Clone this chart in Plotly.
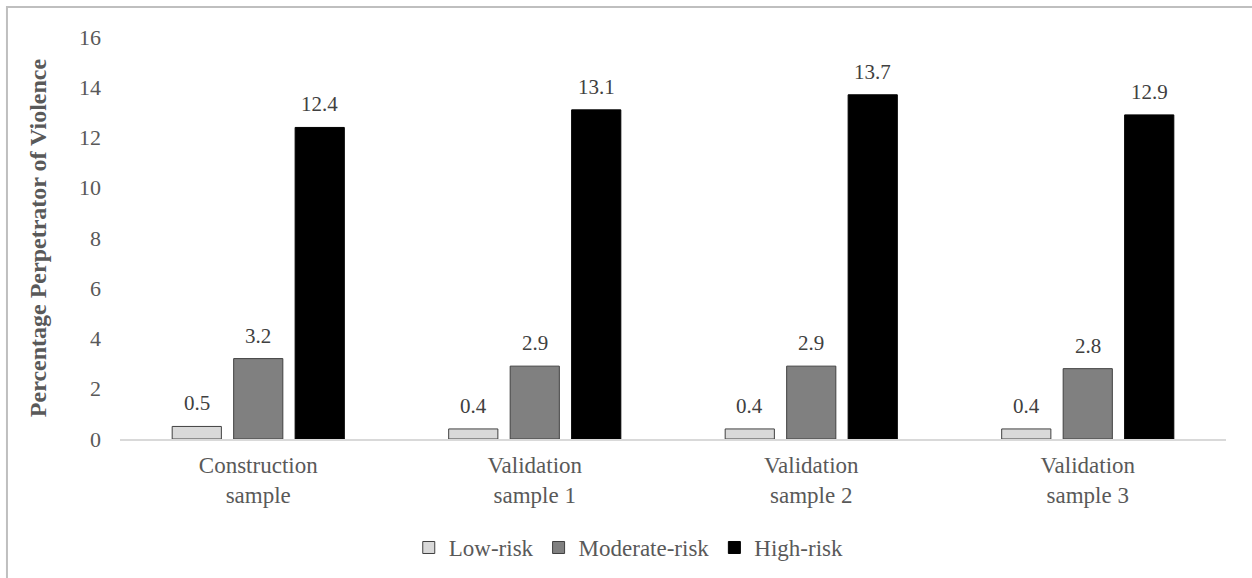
import plotly.graph_objects as go

categories = ["Construction<br>sample", "Validation<br>sample 1", "Validation<br>sample 2", "Validation<br>sample 3"]
series_names = ["Low-risk", "Moderate-risk", "High-risk"]
low_risk = [0.5, 0.4, 0.4, 0.4]
moderate_risk = [3.2, 2.9, 2.9, 2.8]
high_risk = [12.4, 13.1, 13.7, 12.9]
y_ticks = [0, 2, 4, 6, 8, 10, 12, 14, 16]

series_values = [low_risk, moderate_risk, high_risk]
fills = ["#D9D9D9", "#808080", "#000000"]
outlines = ["#404040", "#404040", "#000000"]

FONT = "Liberation Serif, Times New Roman, serif"
TXT = "#595959"

fig = go.Figure()
for name, vals, fc, lc in zip(series_names, series_values, fills, outlines):
    fig.add_trace(go.Bar(
        x=categories, y=vals, name=name,
        marker=dict(color=fc, line=dict(color=lc, width=1)),
    ))

offsets = [-61.5, 0, 61.5]
for vals, dx in zip(series_values, offsets):
    for c, v in zip(categories, vals):
        fig.add_annotation(x=c, y=v, text=f"{v:.1f}", showarrow=False,
                           xshift=dx, yshift=23, yanchor="middle",
                           font=dict(family=FONT, size=21, color="#404040"))

fig.add_shape(type="rect", xref="paper", yref="paper",
              x0=-0.1022, x1=1.2, y0=-0.5, y1=1.0746,
              line=dict(color="#BFBFBF", width=2), fillcolor="rgba(0,0,0,0)",
              layer="below")

fig.update_layout(
    width=1252, height=578,
    margin=dict(l=120, r=26, t=37, b=139, autoexpand=False),
    paper_bgcolor="white", plot_bgcolor="white",
    barmode="group", bargap=0.333, bargroupgap=0.2,
    font=dict(family=FONT, size=22, color=TXT),
    showlegend=True,
    legend=dict(orientation="h", x=0.46, xanchor="center", y=-0.27, yanchor="middle",
                font=dict(family=FONT, size=23, color=TXT),
                itemwidth=30, tracegroupgap=0),
    xaxis=dict(showline=True, linecolor="#D9D9D9", linewidth=2, showgrid=False,
               ticks="", ticklabelstandoff=4,
               tickfont=dict(family=FONT, size=23, color=TXT),
               automargin=False),
    yaxis=dict(range=[0, 16], tickvals=y_ticks, showgrid=False, zeroline=False,
               showline=False, ticks="", ticklabelstandoff=18,
               tickfont=dict(family=FONT, size=22, color=TXT),
               title=dict(text="<b>Percentage Perpetrator of Violence</b>", standoff=25,
                          font=dict(family=FONT, size=24, color=TXT)),
               automargin=False),
)

fig.write_html("out.html", config={"displayModeBar": False},
               post_script="document.body.style.margin='0';document.body.style.padding='0';")
